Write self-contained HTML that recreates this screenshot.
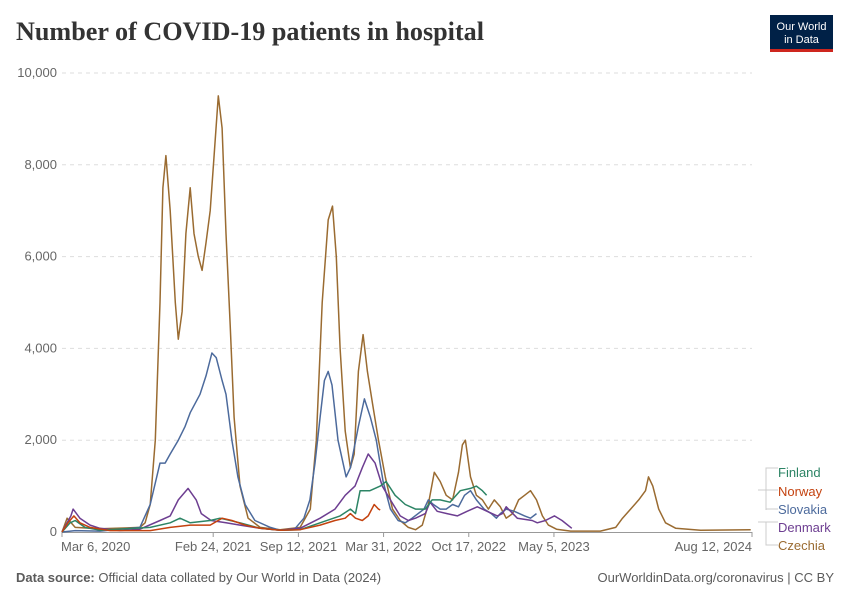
<!DOCTYPE html>
<html><head><meta charset="utf-8"><style>
body{margin:0;background:#fff;}
svg{display:block;font-family:"Liberation Sans",sans-serif;}
</style></head><body>
<svg id="chart" width="850" height="600" viewBox="0 0 850 600">
<text x="16" y="40" font-family="Liberation Serif,serif" font-size="26" font-weight="bold" fill="#333" textLength="468" lengthAdjust="spacingAndGlyphs">Number of COVID-19 patients in hospital</text>
<g>
<rect x="770" y="15" width="63" height="36" fill="#002147"/>
<rect x="770" y="49" width="63" height="3" fill="#ce261e"/>
<text x="801.5" y="30" font-size="11" fill="#fff" text-anchor="middle">Our World</text>
<text x="801.5" y="43" font-size="11" fill="#fff" text-anchor="middle">in Data</text>
</g>
<g id="grid"></g><g id="xaxis"></g><g id="series"></g><g id="legend"></g>
<text x="16" y="582" font-size="13" fill="#5b5b5b"><tspan font-weight="bold">Data source:</tspan> Official data collated by Our World in Data (2024)</text>
<text x="834" y="582" font-size="13" fill="#5b5b5b" text-anchor="end">OurWorldinData.org/coronavirus | CC BY</text>
</svg>
<script>
// days since Mar 6, 2020 and patients in hospital
const yTicks=[0,2000,4000,6000,8000,10000];
const xTickLabels=["Mar 6, 2020","Feb 24, 2021","Sep 12, 2021","Mar 31, 2022","Oct 17, 2022","May 5, 2023","Aug 12, 2024"];
const xTickDays=[0,355,555,755,955,1155,1620];
const czDays=[0,12,31,89,183,195,207,219,230,237,244,254,266,273,282,291,301,310,320,329,338,348,357,367,376,385,395,404,418,437,465,512,559,583,597,611,625,635,644,653,665,677,686,696,707,717,729,743,759,776,794,813,830,846,860,874,888,902,917,931,940,947,959,973,987,1001,1015,1029,1043,1058,1072,1086,1100,1114,1128,1142,1161,1194,1264,1300,1316,1335,1354,1370,1377,1387,1401,1417,1441,1499,1617];
const czVals=[0,300,100,70,100,200,600,2000,5000,7500,8200,7000,5000,4200,4800,6500,7500,6500,6000,5700,6300,7000,8200,9500,8800,6500,4500,2500,1000,300,100,50,100,500,2000,5000,6800,7100,6000,4000,2200,1400,1700,3500,4300,3500,2800,2000,1200,500,250,100,50,150,600,1300,1100,800,700,1300,1900,2000,1200,800,700,500,700,550,300,400,700,800,900,700,350,150,60,20,20,100,300,500,700,900,1200,1000,500,200,80,40,50];
const skDays=[0,31,89,183,207,230,242,254,273,289,301,324,338,352,362,376,385,399,413,430,453,489,512,545,568,582,594,606,616,625,634,648,667,677,696,710,724,738,754,771,789,806,822,850,860,872,888,902,917,931,945,959,973,991,1008,1020,1029,1043,1062,1086,1100,1114];
const skVals=[0,30,20,100,600,1500,1500,1700,2000,2300,2600,3000,3400,3900,3800,3300,3000,2000,1200,600,250,100,40,50,300,700,1500,2500,3300,3500,3200,2000,1200,1400,2300,2900,2500,2000,1100,500,250,200,300,500,700,600,500,500,600,550,800,900,700,500,400,300,400,500,450,350,300,400];
const dkDays=[0,21,26,42,66,89,136,183,230,254,273,296,315,327,350,385,418,465,512,559,606,641,665,688,705,719,735,752,771,794,813,830,853,864,881,904,928,951,975,998,1022,1034,1043,1069,1104,1116,1135,1156,1174,1197];
const dkVals=[0,350,500,300,150,80,30,60,250,350,700,950,700,400,250,200,150,80,40,80,300,500,800,1000,1400,1700,1500,1000,700,350,250,300,400,650,450,400,350,450,550,450,350,400,550,300,250,200,250,350,250,80];
const fiDays=[0,19,31,54,89,207,254,277,301,348,371,418,465,512,559,606,653,677,689,700,723,747,761,782,806,830,853,869,888,911,935,959,973,987,997];
const fiVals=[0,200,250,100,40,100,200,300,200,250,300,200,80,40,50,200,350,500,400,900,900,1000,1100,800,600,500,500,700,700,650,900,950,1000,900,800];
const noDays=[0,14,28,42,66,113,207,254,301,348,376,399,430,465,512,559,606,641,665,677,689,705,719,733,743,747];
const noVals=[0,200,350,200,100,30,30,100,150,150,300,250,150,80,40,50,150,250,300,400,300,250,350,600,500,480];

const X0=62,X1=752,Y0=532,Y1=73,DMAX=1620,VMAX=10000;
const xS=d=>X0+(X1-X0)*d/DMAX;
const yS=v=>Y0-(Y0-Y1)*v/VMAX;
const NS="http://www.w3.org/2000/svg";
function mk(tag,attrs,parent){const e=document.createElementNS(NS,tag);for(const k in attrs)e.setAttribute(k,attrs[k]);parent.appendChild(e);return e;}
const grid=document.getElementById('grid');
yTicks.forEach(v=>{
  if(v>0){const l=mk('line',{x1:X0,x2:X1,y1:yS(v),y2:yS(v),stroke:'#ddd','stroke-dasharray':'4,4'},grid);
  
  }
  const t=mk('text',{x:57,y:yS(v)+4,'text-anchor':'end','font-size':13,fill:'#666'},grid);
  t.textContent=v.toLocaleString('en-US');
  
  
});
const xa=document.getElementById('xaxis');
const base=mk('line',{x1:X0,x2:X1,y1:Y0+0.5,y2:Y0+0.5,stroke:'#999'},xa);


xTickDays.forEach((d,i)=>{
  const tk=mk('line',{x1:xS(d),x2:xS(d),y1:Y0,y2:Y0+5,stroke:'#999'},xa);
  
  
  const anchor=i===0?'start':(i===xTickDays.length-1?'end':'middle');
  const t=mk('text',{x:xS(d)+(i===0?-1:0),y:551,'text-anchor':anchor,'font-size':13,fill:'#666'},xa);
  t.textContent=xTickLabels[i];
  
  
});
const sg=document.getElementById('series');
const series=[
 {n:'czechia',d:czDays,v:czVals,c:'#9a6b31'},
 {n:'slovakia',d:skDays,v:skVals,c:'#4c6a9c'},
 {n:'denmark',d:dkDays,v:dkVals,c:'#6d3e91'},
 {n:'finland',d:fiDays,v:fiVals,c:'#2c8465'},
 {n:'norway',d:noDays,v:noVals,c:'#c4420f'}];
series.forEach(s=>{
  const p=s.d.map((d,i)=>(i?'L':'M')+xS(d).toFixed(1)+','+yS(s.v[i]).toFixed(1)).join('');
  const e=mk('path',{d:p,fill:'none',stroke:s.c,'stroke-width':1.5,'stroke-linejoin':'round'},sg);
  
  
});
const lg=document.getElementById('legend');
const legendItems=[['Finland','#2c8465',472],['Norway','#c4420f',491],['Slovakia','#4c6a9c',509],['Denmark','#6d3e91',527],['Czechia','#9a6b31',545]];
mk('path',{d:'M778,468H766V490M758,490H766V510M778,490H766M778,509H766M758,522H766V545H778M758,522H778',fill:'none',stroke:'#ccc'},lg);
legendItems.forEach(it=>{
  const t=mk('text',{x:778,y:it[2]+5,'font-size':13,fill:it[1]},lg);
  t.textContent=it[0];
  
  
});
</script>
</body></html>
